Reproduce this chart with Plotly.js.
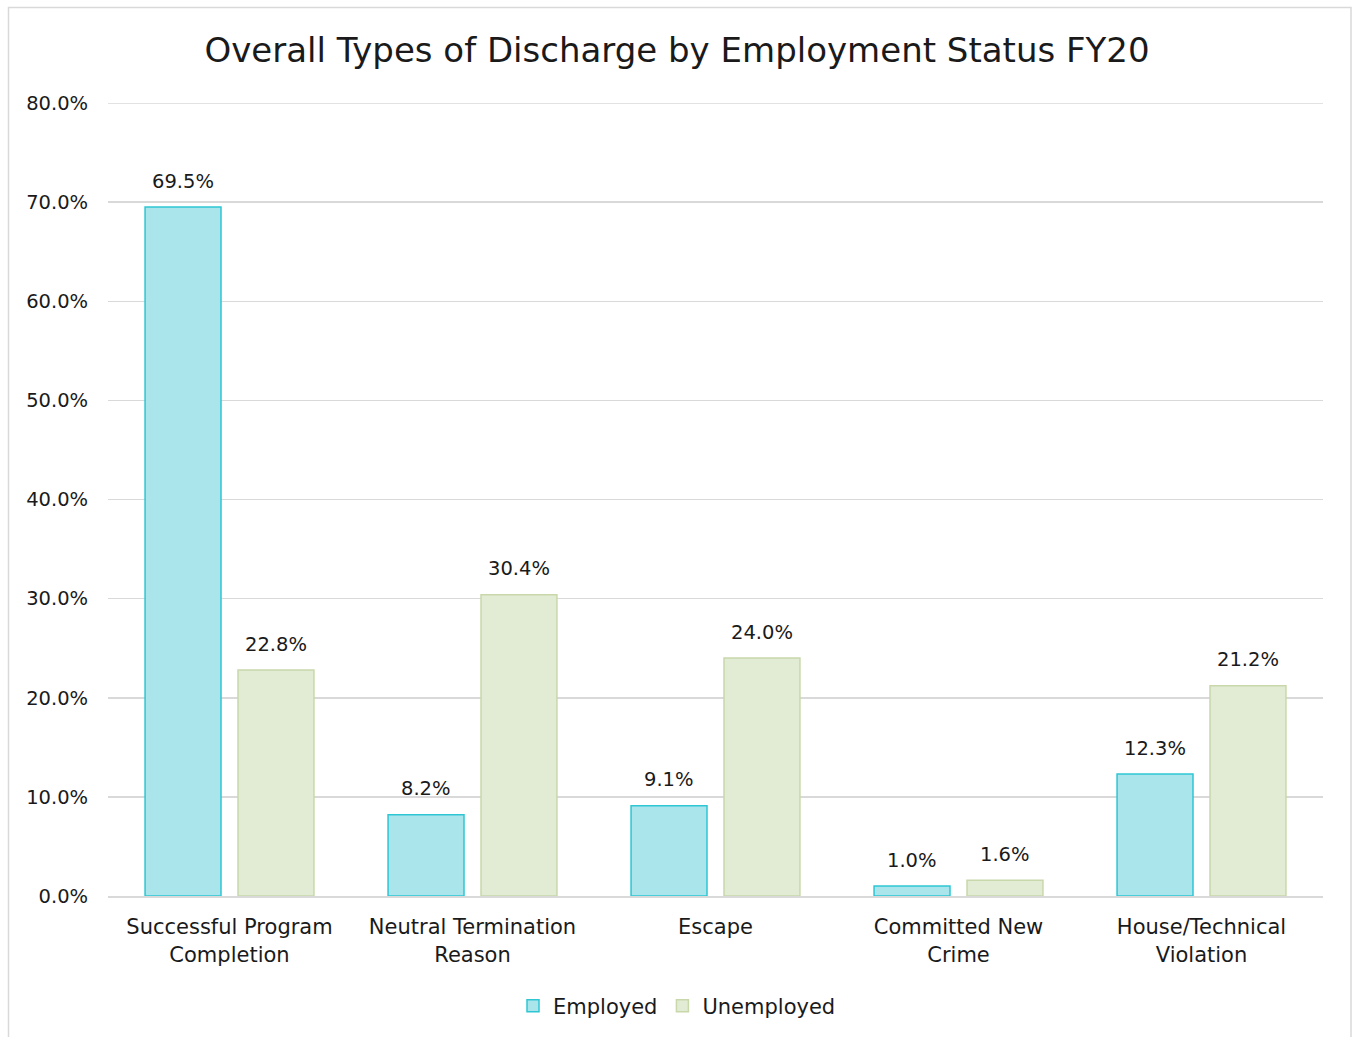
<!DOCTYPE html>
<html>
<head>
<meta charset="utf-8">
<script src="https://cdn.plot.ly/plotly-3.0.1.min.js"></script>
<style>html,body{margin:0;padding:0;background:#fff;}#chart{width:1354px;height:1037px;}</style>
</head>
<body>
<div id="chart"></div>
<script>
const categories = ["Successful Program<br>Completion", "Neutral Termination<br>Reason", "Escape", "Committed New<br>Crime", "House/Technical<br>Violation"];
const employed = [69.5, 8.2, 9.1, 1.0, 12.3];
const unemployed = [22.8, 30.4, 24.0, 1.6, 21.2];
const seriesNames = ["Employed", "Unemployed"];
const yTicks = [0, 10, 20, 30, 40, 50, 60, 70, 80];
const yTickLabels = yTicks.map(v => v.toFixed(1) + "%");
const yMax = yTicks[yTicks.length - 1];

const FONT = "DejaVu Sans, sans-serif";
const traces = [
  {type: "bar", name: seriesNames[0], x: categories, y: employed,
   marker: {color: "#abe5ec", line: {color: "#2ec6d3", width: 1.5}}, hoverinfo: "none"},
  {type: "bar", name: seriesNames[1], x: categories, y: unemployed,
   marker: {color: "#e2ebd4", line: {color: "#c8d8aa", width: 1.5}}, hoverinfo: "none"}
];

const annotations = [];
[employed, unemployed].forEach((arr, s) => {
  arr.forEach((v, i) => {
    annotations.push({x: categories[i], y: v, xref: "x", yref: "y", text: v.toFixed(1) + "%",
      showarrow: false, xshift: s === 0 ? -46.5 : 46.5, yshift: 26, yanchor: "middle",
      font: {family: FONT, size: 19.5, color: "#1a1a1a"}});
  });
});

const layout = {
  width: 1354, height: 1037,
  paper_bgcolor: "#fff", plot_bgcolor: "#fff",
  margin: {l: 108, r: 31, t: 103, b: 141},
  title: {text: "Overall Types of Discharge by Employment Status FY20", x: 0.5, xref: "container",
    y: 1 - 50/1037, yref: "container", yanchor: "middle",
    font: {family: FONT, size: 34, color: "#1a1a1a"}},
  barmode: "group", bargap: 0.235, bargroupgap: 0.183,
  xaxis: {tickfont: {family: FONT, size: 21, color: "#1a1a1a"}, showline: true, linecolor: "#d9d9d9", linewidth: 2,
    ticks: "outside", ticklen: 11, tickcolor: "rgba(0,0,0,0)", fixedrange: true},
  yaxis: {range: [0, yMax], tickvals: yTicks, ticktext: yTickLabels, showgrid: true, gridcolor: "#d9d9d9", gridwidth: 1.5,
    zeroline: false, ticks: "outside", ticklen: 15, tickcolor: "rgba(0,0,0,0)",
    tickfont: {family: FONT, size: 19.5, color: "#1a1a1a"}, fixedrange: true},
  legend: {orientation: "h", x: 0.5, xref: "container", xanchor: "center", y: 1 - 1006/1037, yref: "container", yanchor: "middle",
    font: {family: FONT, size: 21, color: "#1a1a1a"}, itemwidth: 30, tracegroupgap: 10},
  annotations: annotations,
  shapes: [
    {type: "rect", xref: "paper", yref: "paper",
     x0: (8.5 - 108) / 1215, x1: (1351 - 108) / 1215, y0: -(1040 - 896) / 793, y1: (896 - 7.5) / 793,
     line: {color: "#d9d9d9", width: 1.5}, fillcolor: "rgba(0,0,0,0)", layer: "below"},
    {type: "line", xref: "paper", yref: "y", x0: 0, x1: 1, y0: yMax, y1: yMax,
     line: {color: "#d9d9d9", width: 1.5}, layer: "below"}
  ],
  showlegend: true
};
Plotly.newPlot("chart", traces, layout, {displayModeBar: false, staticPlot: true});
</script>
</body>
</html>
